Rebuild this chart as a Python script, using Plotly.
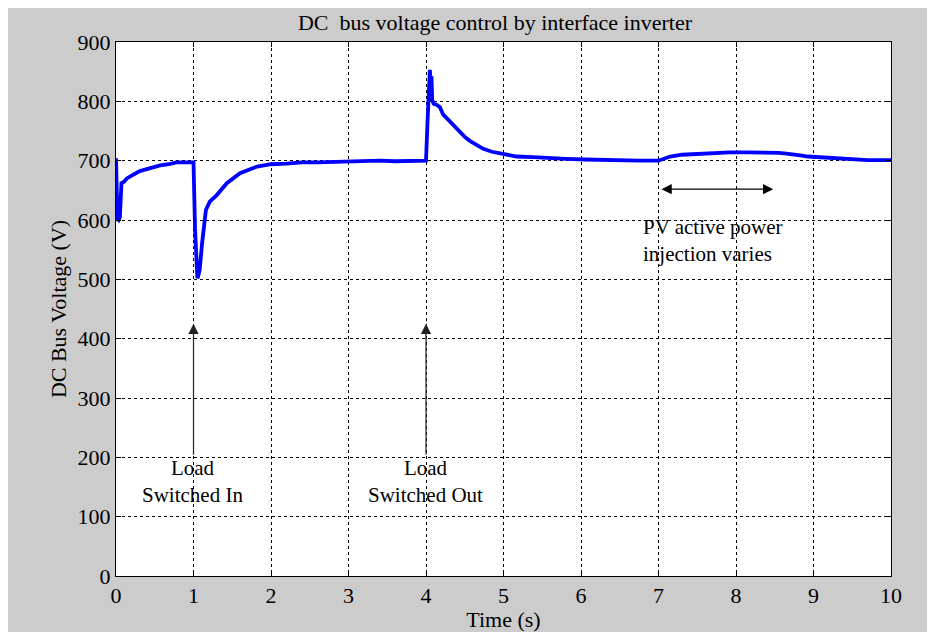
import plotly.graph_objects as go

# Time (s) and DC bus voltage (V)
time_s = [0.0, 0.005, 0.012, 0.02, 0.035, 0.05, 0.06, 0.07, 0.1, 0.14, 0.18, 0.25, 0.3, 0.35,
          0.45, 0.57, 0.68, 0.78, 0.9, 0.99, 1.0, 1.02, 1.04, 1.05, 1.06, 1.08, 1.11, 1.13,
          1.16, 1.21, 1.3, 1.43, 1.6, 1.82, 2.0, 2.2, 2.4, 2.6, 2.8, 3.0, 3.2, 3.4, 3.6, 3.8,
          3.99, 4.0, 4.02, 4.04, 4.05, 4.06, 4.07, 4.08, 4.1, 4.14, 4.18, 4.22, 4.27, 4.31,
          4.38, 4.44, 4.5, 4.57, 4.65, 4.74, 4.85, 4.95, 5.05, 5.17, 5.38, 5.6, 5.81, 6.05,
          6.3, 6.5, 6.75, 7.0, 7.08, 7.15, 7.3, 7.54, 7.7, 7.92, 8.15, 8.39, 8.55, 8.65, 8.75,
          8.83, 8.93, 9.04, 9.2, 9.34, 9.5, 9.7, 9.85, 10.0]
voltage_v = [704, 690, 640, 602, 600, 604, 640, 662, 664, 670, 673, 679, 682, 684,
             688, 692, 694, 697, 697, 698, 697, 585, 520, 502, 505, 516, 560, 583,
             617, 631, 642, 662, 679, 690, 694, 695, 697, 697, 698, 699, 699, 700, 699, 700,
             700, 700, 766, 840, 853, 832, 842, 802, 796, 794, 790, 778, 771, 765,
             757, 749, 740, 733, 726, 720, 715, 712, 709, 707, 706, 704, 703, 702,
             701, 701, 700, 700, 704, 707, 710, 712, 713, 714, 714, 714, 713, 712, 711,
             709, 707, 706, 704, 703, 702, 701, 701, 701]

x_ticks = list(range(0, 11))
y_ticks = list(range(0, 1000, 100))

title_text = "DC  bus voltage control by interface inverter"
x_title = "Time (s)"
y_title = "DC Bus Voltage (V)"

FONT = "Liberation Serif, Times New Roman, serif"

fig = go.Figure()
fig.add_trace(go.Scatter(x=time_s, y=voltage_v, mode="lines",
                         line=dict(color="#0000ff", width=3.8, shape="linear"), showlegend=False))

axis_common = dict(
    showline=True, linecolor="black", linewidth=1, mirror="ticks",
    ticks="inside", ticklen=5, tickcolor="black",
    showgrid=True, gridcolor="black", gridwidth=1, griddash="3px,3px",
    zeroline=False, automargin=False,
    tickfont=dict(family=FONT, size=22, color="black"),
)

fig.update_xaxes(range=[0, 10], tickvals=x_ticks, **axis_common,
                 title=dict(text=x_title, font=dict(family=FONT, size=22, color="black"), standoff=0))
fig.update_yaxes(range=[0, 900], tickvals=y_ticks, **axis_common,
                 title=dict(text=y_title, font=dict(family=FONT, size=22, color="black"), standoff=4))

arrow_color = "#222222"
# Vertical arrows
for tx in [1.0, 4.0]:
    fig.add_annotation(x=tx, y=425, ax=tx, ay=202, xref="x", yref="y", axref="x", ayref="y",
                       text="", showarrow=True, arrowhead=2, arrowsize=1.7, arrowwidth=1.2,
                       arrowcolor=arrow_color)
# Double-headed horizontal arrow
fig.add_annotation(x=8.48, y=652, ax=7.02, ay=652, xref="x", yref="y", axref="x", ayref="y",
                   text="", showarrow=True, arrowhead=2, startarrowhead=2, arrowside="end+start",
                   arrowsize=1.7, startarrowsize=1.7, arrowwidth=1.2, arrowcolor="black")

fig.add_annotation(x=0.99, y=159, xref="x", yref="y", text="Load<br>Switched In",
                   showarrow=False, align="center", font=dict(family=FONT, size=21, color="black"))
fig.add_annotation(x=3.99, y=159, xref="x", yref="y", text="Load<br>Switched Out",
                   showarrow=False, align="center", font=dict(family=FONT, size=21, color="black"))
fig.add_annotation(x=6.77, y=565, xref="x", yref="y", text="PV active power<br>injection varies",
                   showarrow=False, align="left", xanchor="left",
                   font=dict(family=FONT, size=21, color="black"))

fig.update_layout(
    width=927, height=624,
    margin=dict(l=108, r=44, t=34, b=56),
    paper_bgcolor="#cccccc", plot_bgcolor="white",
    title=dict(text=title_text, x=(495 - 8) / 927, xanchor="center", y=1 - 14 / 624, yanchor="middle",
               font=dict(family=FONT, size=22, color="black")),
    font=dict(family=FONT, color="black"),
)

fig.write_html("out.html")
